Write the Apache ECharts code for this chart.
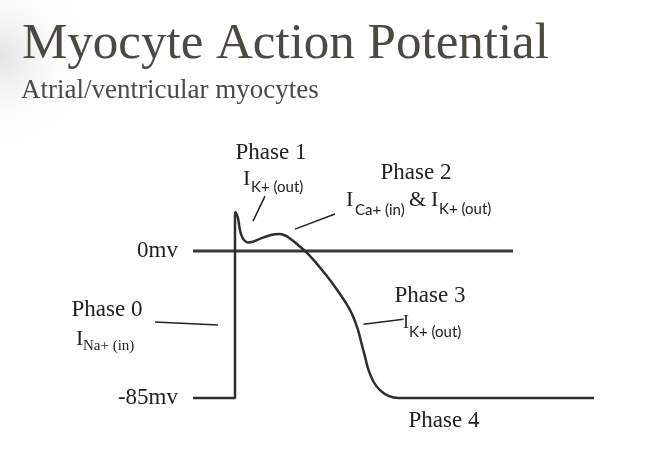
<!DOCTYPE html>
<html>
<head>
<meta charset="utf-8">
<script src="https://cdn.jsdelivr.net/npm/echarts@6/dist/echarts.min.js"></script>
<style>html,body{margin:0;padding:0;background:#fff;}#c{width:666px;height:470px;}</style>
</head>
<body>
<div id="c"></div>
<script>
// Membrane potential (mV) against time (ms)
var baselineAndUpstroke = [[-84, -85], [0, -85], [0, 21]];
var repolarisation = [
  [0, 21], [1, 22.4], [3, 21.5], [6, 18.9], [9.4, 13.1], [12.6, 9.3], [18, 6.4], [26, 5],
  [36, 5.4], [52, 7.3], [72, 9.3], [88, 9.8], [100, 9], [110, 7.3], [126, 3.5],
  [143, -0.75], [163, -7.1], [183, -14.2], [203, -22], [223, -30.6], [233, -35.8],
  [241, -41.4], [247, -46.6], [253, -53.4], [260, -61.1], [267, -68.8], [277, -75.6],
  [290, -80.4], [307, -83.8], [327, -85], [360, -85], [718, -85]
];
var zeroLine = [[-84, 0], [556, 0]];
var yTickValues = [0, -85];
var yTickLabels = ['0mv', '-85mv'];
// Leader lines from phase labels to the curve
var leaders = [
  [[-160, -41.1], [-34, -42.8]],
  [[60, 31.8], [36, 17.3]],
  [[200, 21.4], [120, 12.7]],
  [[257, -42.4], [337, -39.5]]
];
var titleText = 'Myocyte Action Potential';
var subtitleText = 'Atrial/ventricular myocytes';
var phaseNames = ['Phase 0', 'Phase 1', 'Phase 2', 'Phase 3', 'Phase 4'];

var chart = echarts.init(document.getElementById('c'), null, {renderer: 'canvas'});
var SERIF = '"Liberation Serif", "DejaVu Serif", serif';
var SANS = 'Lato, "Open Sans", sans-serif';
var INK = '#222';

function txt(x, y, text, font, align, extra) {
  var st = {text: text, font: font, fill: INK, align: align || 'left', verticalAlign: 'middle',
            textAlign: align || 'left', textVerticalAlign: 'middle'};
  if (extra) for (var k in extra) st[k] = extra[k];
  return {type: 'text', x: x, y: y, z: 10, style: st};
}

var series = [
  {type: 'line', data: zeroLine, symbol: 'none', clip: false, silent: true,
   lineStyle: {color: '#3a3a3a', width: 3}},
  {type: 'line', data: baselineAndUpstroke, symbol: 'none', clip: false, silent: true,
   lineStyle: {color: '#2e2e2e', width: 2.5}},
  {type: 'line', data: repolarisation, symbol: 'none', clip: false, silent: true, smooth: 0.4,
   lineStyle: {color: '#2e2e2e', width: 2.5}}
];
leaders.forEach(function (seg) {
  series.push({type: 'line', data: seg, symbol: 'none', clip: false, silent: true,
    lineStyle: {color: '#222', width: 1.5}});
});

chart.setOption({
  animation: false,
  backgroundColor: '#ffffff',
  grid: {left: 155, right: 72, top: 213, bottom: 72},
  xAxis: {type: 'value', min: -160, max: 718, show: false},
  yAxis: {
    type: 'value', min: -85, max: 22, interval: 85, offset: -38,
    axisLine: {show: false}, axisTick: {show: false}, splitLine: {show: false},
    axisLabel: {
      margin: 15, color: INK, fontFamily: SERIF, fontSize: 23,
      formatter: function (v) {
        var i = yTickValues.indexOf(v);
        return i >= 0 ? yTickLabels[i] : '';
      }
    }
  },
  graphic: [
    {type: 'rect', z: -10, shape: {x: 0, y: 0, width: 666, height: 470},
     style: {fill: new echarts.graphic.RadialGradient(0, 0.12, 0.2, [
       {offset: 0, color: '#e4e4e4'}, {offset: 1, color: 'rgba(255,255,255,0)'}])}},
    txt(22, 45, titleText, '51px ' + SERIF, 'left', {fill: '#4b4940'}),
    txt(21, 91, subtitleText, '27px ' + SERIF, 'left', {fill: '#4d4a43'}),
    // Phase 0
    txt(107, 310, phaseNames[0], '23px ' + SERIF, 'center'),
    txt(76, 339, 'I', '22px ' + SERIF, 'left'),
    txt(83, 346, 'Na+ (in)', '15px ' + SERIF, 'left'),
    // Phase 1
    txt(271, 153, phaseNames[1], '23px ' + SERIF, 'center'),
    txt(243, 179, 'I', '22px ' + SERIF, 'left'),
    txt(251, 187, 'K+ (out)', '15px ' + SANS, 'left'),
    // Phase 2
    txt(416, 173, phaseNames[2], '23px ' + SERIF, 'center'),
    txt(346, 200, 'I', '22px ' + SERIF, 'left'),
    txt(355, 210, 'Ca+ (in)', '15px ' + SANS, 'left'),
    txt(409, 200, '&', '22px ' + SERIF, 'left'),
    txt(431, 200, 'I', '22px ' + SERIF, 'left'),
    txt(439, 209, 'K+ (out)', '15px ' + SANS, 'left'),
    // Phase 3
    txt(430, 296, phaseNames[3], '23px ' + SERIF, 'center'),
    txt(403, 323, 'I', '18px ' + SERIF, 'left'),
    txt(409, 332, 'K+ (out)', '15px ' + SANS, 'left'),
    // Phase 4
    txt(444, 421, phaseNames[4], '23px ' + SERIF, 'center')
  ],
  series: series
});
</script>
</body>
</html>
